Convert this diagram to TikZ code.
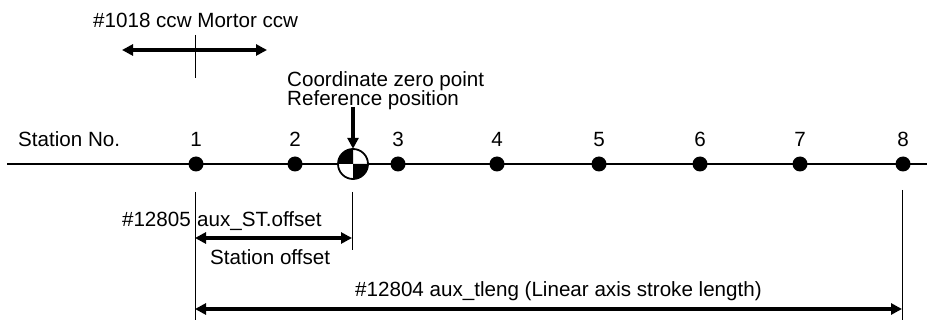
\documentclass[tikz,border=0pt]{standalone}
\usepackage{fontspec}
\setmainfont{Liberation Sans}
\usetikzlibrary{arrows.meta}
\begin{document}
\begin{tikzpicture}[x=1pt,y=-1pt,
  txt/.style={font=\fontsize{20.6}{22}\selectfont, inner sep=0pt},
  stdot/.style={circle, fill=black, minimum size=15pt, inner sep=0pt},
  thin line/.style={line width=1pt},
  dimarrow/.style={line width=3.2pt, {Triangle[length=11pt,width=11pt]}-{Triangle[length=11pt,width=11pt]}},
  onearrow/.style={line width=3.2pt, -{Triangle[length=11pt,width=11pt]}}]
\useasboundingbox (0,0) rectangle (934,320);
% main axis
\coordinate (L) at (7,164);
\coordinate (R) at (927,164);
\draw[line width=1.8pt] (L) -- (R);
\node[txt, anchor=base west] (stno) at (18,147) {Station No.};
% stations
\foreach \n/\x in {1/196,2/295,3/398,4/497,5/599,6/700,7/800,8/903}{
  \node[stdot] (s\n) at (\x,164) {};
  \node[txt, anchor=base] (n\n) at (\x,147) {\n};
}
% reference circle
\coordinate (ref) at (353,164);
\fill[white] (ref) circle (15);
\fill[black] (ref) -- ++(15,0) arc (0:90:15) -- cycle;
\fill[black] (ref) -- ++(-15,0) arc (180:270:15) -- cycle;
\draw[line width=1.8pt] (ref) circle (15);
\node[circle, minimum size=30pt, inner sep=0pt] (refc) at (ref) {};
\node[txt, anchor=base west] (cz) at (287,87) {Coordinate zero point};
\node[txt, anchor=base west] (rp) at (287,106) {Reference position};
\coordinate (rarrtop) at (353,107);
\draw[onearrow] (rarrtop) -- (refc.north);
% top ccw arrow
\node[txt, anchor=base west] (ccw) at (93,28) {\#1018 ccw Mortor ccw};
\coordinate (ccwL) at (122,50);
\coordinate (ccwR) at (267,50);
\draw[dimarrow] (ccwL) -- (ccwR);
\coordinate (tickT) at (195,35);
\coordinate (tickB) at (195,78);
\draw[thin line] (tickT) -- (tickB);
% lower extension lines
\coordinate (e1t) at (195,192);
\coordinate (e1b) at (195,320);
\coordinate (e2t) at (352,192);
\coordinate (e2b) at (352,250);
\coordinate (e3t) at (902,190);
\coordinate (e3b) at (902,320);
\draw[thin line] (e1t) -- (e1b);
\draw[thin line] (e2t) -- (e2b);
\draw[thin line] (e3t) -- (e3b);
% station offset
\coordinate (o1) at (195,238);
\coordinate (o2) at (352,238);
\draw[dimarrow] (o1) -- (o2);
\node[txt, anchor=base east] (p12805) at (191,227) {\#12805};
\node[txt, anchor=base west] (auxst) at (197,227) {aux\_ST.offset};
\node[txt, anchor=base west] (sto) at (210,265) {Station offset};
% stroke length
\coordinate (t1) at (195,309);
\coordinate (t2) at (902,309);
\draw[dimarrow] (t1) -- (t2);
\node[txt, anchor=base west] (tleng) at (355,296) {\#12804 aux\_tleng (Linear axis stroke length)};
\end{tikzpicture}
\end{document}
